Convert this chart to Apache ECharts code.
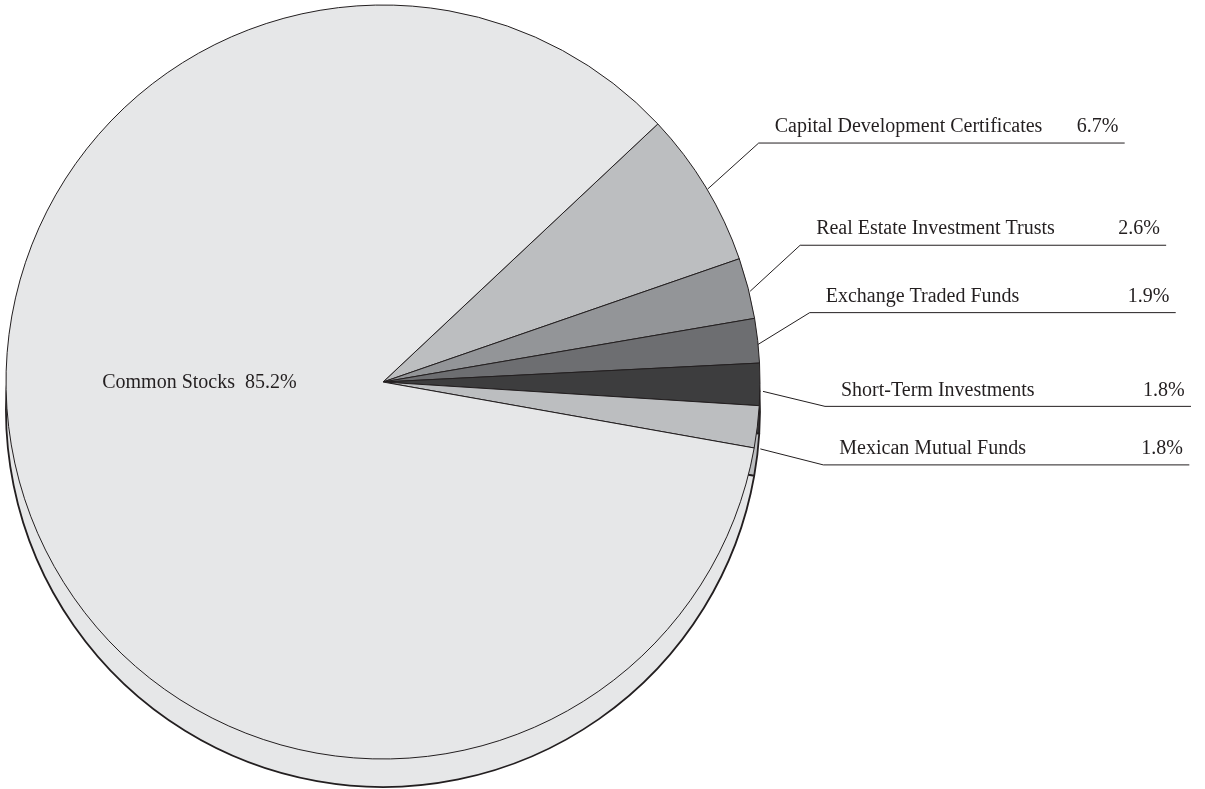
<!DOCTYPE html>
<html>
<head>
<meta charset="UTF-8">
<title>Portfolio holdings</title>
<script src="https://cdn.jsdelivr.net/npm/echarts@6/dist/echarts.min.js"></script>
<style>
  html, body { margin: 0; padding: 0; background: #fff; }
  #main { width: 1205px; height: 789px; }
</style>
</head>
<body>
<div id="main"></div>
<script>
  // data, in drawing order (clockwise from the top of Capital Development Certificates)
  var names = ['Capital Development Certificates', 'Real Estate Investment Trusts', 'Exchange Traded Funds',
               'Short-Term Investments', 'Mexican Mutual Funds', 'Common Stocks'];
  var values = [6.7, 2.6, 1.9, 1.8, 1.8, 85.2];
  var colors = ['#bcbec0', '#939598', '#6d6e71', '#3d3d3e', '#bcbec0', '#e6e7e8'];

  // leader lines: nudge of the start point, and elbow offset from the slice edge
  var startDx = [2, 2, 0, 3, 3];
  var startDy = [2, 3, 4, 7, 22];
  var elbowDx = [53, 52, 52, 65, 66];
  var elbowDy = [-44, -43, -28, 22, 38];

  var ink = '#231f20';
  var font = 'Liberation Serif';
  var fsize = 20;

  var pieData = names.map(function (n, i) {
    return { name: n, value: values[i], itemStyle: { color: colors[i] } };
  });

  function placeLabel(params) {
    var i = params.dataIndex;
    if (i === names.length - 1) {
      return { dy: -54 };
    }
    var p0 = params.labelLinePoints[0];
    var ex = p0[0] + elbowDx[i];
    var ey = p0[1] + elbowDy[i];
    return {
      x: ex + 16,
      y: ey - 16,
      align: 'left',
      verticalAlign: 'middle',
      labelLinePoints: [[p0[0] + startDx[i], p0[1] + startDy[i]], [ex, ey], [ex + 366, ey]]
    };
  }

  var myChart = echarts.init(document.getElementById('main'));

  var option = {
    backgroundColor: '#fff',
    animation: false,
    series: [{
      // side of the pie, shifted down
      type: 'pie',
      center: [383, 410],
      radius: 377,
      startAngle: 43.2,
      silent: true,
      z: 1,
      label: { show: false },
      labelLine: { show: false },
      itemStyle: { borderColor: ink, borderWidth: 1.8 },
      data: pieData
    }, {
      type: 'pie',
      center: [383, 382],
      radius: 377,
      startAngle: 43.2,
      avoidLabelOverlap: false,
      z: 2,
      emphasis: { disabled: true },
      itemStyle: { borderColor: ink, borderWidth: 1 },
      label: {
        position: 'outside',
        color: ink,
        fontFamily: font,
        fontSize: fsize,
        formatter: '{n|{b}}{v|{c}%}',
        rich: {
          n: { width: 302, color: ink, fontFamily: font, fontSize: fsize },
          v: { color: ink, fontFamily: font, fontSize: fsize }
        }
      },
      labelLine: { show: true, lineStyle: { color: ink, width: 1 } },
      labelLayout: placeLabel,
      data: pieData.map(function (d, i) {
        if (i === names.length - 1) {
          return {
            name: d.name, value: d.value, itemStyle: d.itemStyle,
            label: { position: 'inside', formatter: '{b}  {c}%', color: ink, fontFamily: font, fontSize: fsize },
            labelLine: { show: false }
          };
        }
        return d;
      })
    }]
  };

  myChart.setOption(option);
</script>
</body>
</html>
